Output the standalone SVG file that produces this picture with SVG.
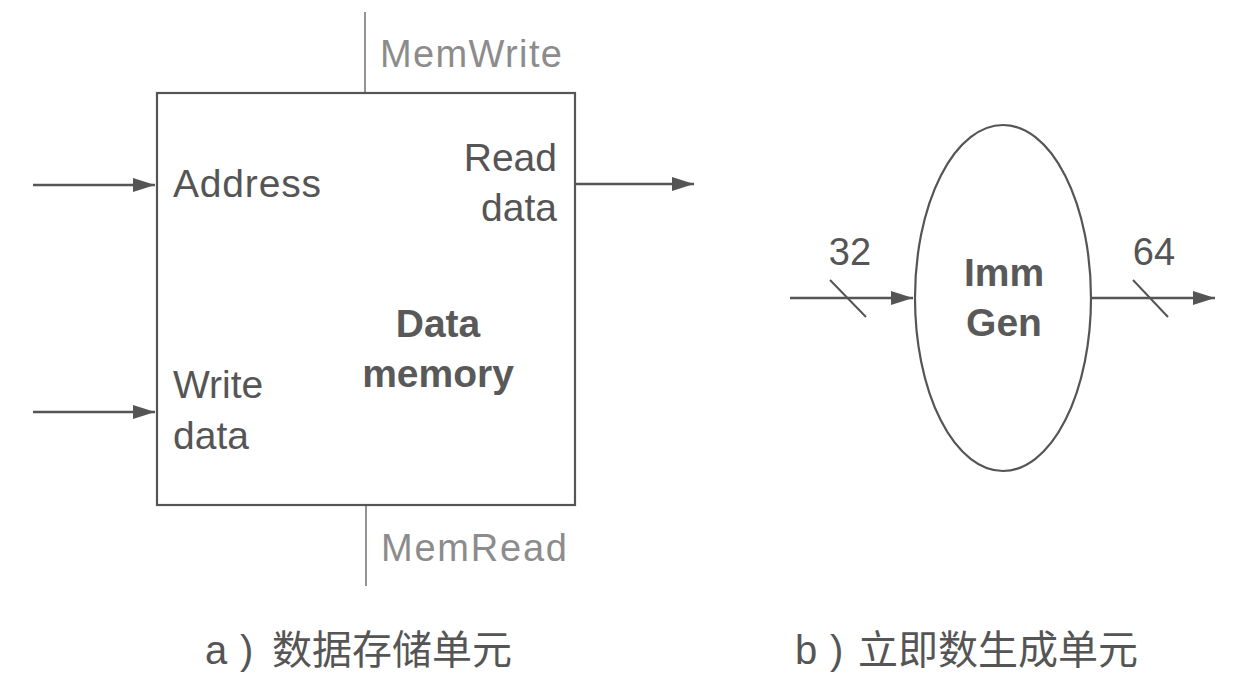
<svg xmlns="http://www.w3.org/2000/svg" width="1253" height="683" viewBox="0 0 1253 683">
<style>
.t{font-family:"Liberation Sans",Arial,sans-serif;fill:#555;font-size:39px}
.b{font-weight:bold;fill:#595959}
.c{fill:#8c8c8c;font-size:38px}
.n{font-size:38px}
.cap{font-family:"Liberation Sans","Noto Sans CJK SC",sans-serif;fill:#555;font-size:40px}
.w{stroke:#555;stroke-width:2.5;fill:none}
.ctl{stroke:#888;stroke-width:1.8;fill:none}
</style>
<defs>
<marker id="ah2" markerWidth="24" markerHeight="14" refX="22" refY="7" orient="auto" markerUnits="userSpaceOnUse"><path d="M0,0 L22,7 L0,14 Z" fill="#555"/></marker>
</defs>
<rect width="1253" height="683" fill="#fff"/>
<g id="connectors">
<line class="ctl" x1="365" y1="12" x2="365" y2="93"/>
<line class="ctl" x1="366" y1="505" x2="366" y2="586"/>
<line class="w" x1="33" y1="185" x2="155" y2="185" marker-end="url(#ah2)"/>
<line class="w" x1="33" y1="412" x2="155" y2="412" marker-end="url(#ah2)"/>
<line class="w" x1="575" y1="184" x2="694" y2="184" marker-end="url(#ah2)"/>
<line class="w" x1="790" y1="298" x2="913" y2="298" marker-end="url(#ah2)"/>
<line class="w" x1="1092" y1="298" x2="1215" y2="298" marker-end="url(#ah2)"/>
<line stroke="#555" stroke-width="2" x1="830" y1="280" x2="866" y2="317"/>
<line stroke="#555" stroke-width="2" x1="1133" y1="280" x2="1168" y2="317"/>
<text class="t n" x="850" y="265" text-anchor="middle">32</text>
<text class="t n" x="1154" y="265" text-anchor="middle">64</text>
</g>
<g id="data-memory">
<rect x="157" y="93" width="418" height="412" fill="none" stroke="#555" stroke-width="2.2"/>
<text class="t c" x="380" y="67" textLength="182">MemWrite</text>
<text class="t c" x="381" y="561" textLength="186">MemRead</text>
<text class="t" x="173" y="197" textLength="148">Address</text>
<text class="t" x="557" y="171" text-anchor="end">Read</text>
<text class="t" x="557" y="221" text-anchor="end">data</text>
<text class="t" x="173" y="398">Write</text>
<text class="t" x="173" y="449">data</text>
<text class="t b" x="438" y="337" text-anchor="middle">Data</text>
<text class="t b" x="438" y="387" text-anchor="middle">memory</text>
</g>
<g id="imm-gen">
<ellipse cx="1003" cy="298" rx="88" ry="173" fill="none" stroke="#555" stroke-width="2.2"/>
<text class="t b" x="1004" y="286" text-anchor="middle">Imm</text>
<text class="t b" x="1004" y="336" text-anchor="middle">Gen</text>
</g>
<g id="captions">
<text class="cap" x="205" y="664">a<tspan x="240">)</tspan><tspan x="272">数据存储单元</tspan></text>
<text class="cap" x="795" y="664">b<tspan x="830">)</tspan><tspan x="858">立即数生成单元</tspan></text>
</g>
</svg>
